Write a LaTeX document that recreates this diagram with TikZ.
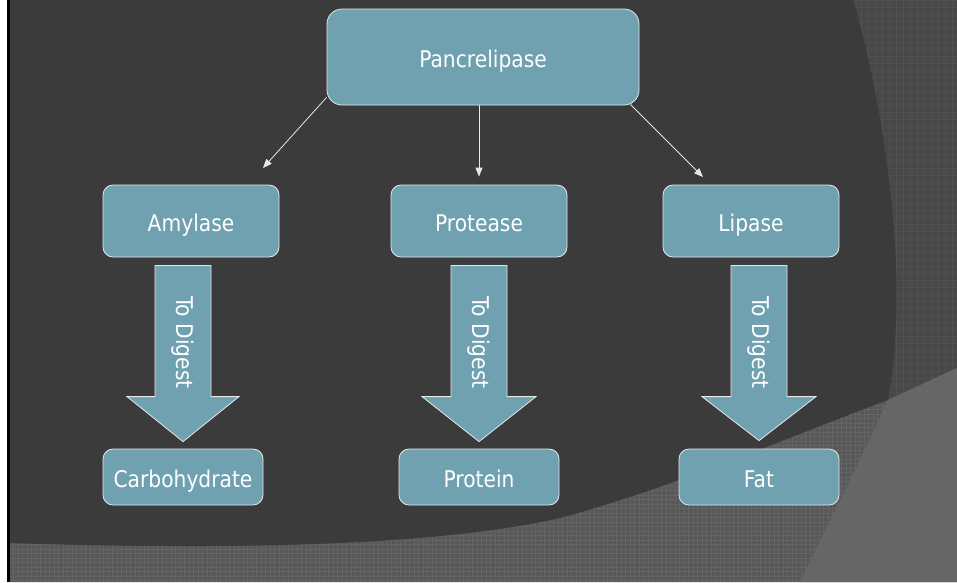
\documentclass[tikz,border=0pt]{standalone}
\usepackage{fontspec}
\setmainfont{DejaVu Sans}[FakeStretch=0.88]
\usetikzlibrary{arrows.meta,calc,positioning}

\definecolor{slatebg}{HTML}{3B3B3B}
\definecolor{sideband}{HTML}{484848}
\definecolor{sidegrid}{HTML}{505050}
\definecolor{lowband}{HTML}{585858}
\definecolor{lowgrid}{HTML}{646464}
\definecolor{cornerband}{HTML}{666666}
\definecolor{boxteal}{HTML}{6FA1B0}
\definecolor{boxedge}{HTML}{E8E8E8}

\tikzset{
  enzyme/.style={draw=boxedge, line width=0.8pt, fill=boxteal, rounded corners=10pt,
    text=white, inner sep=0pt, text height=22pt, text depth=2pt,
    font=\fontsize{23}{27}\selectfont},
  toplevel/.style={enzyme, minimum width=312pt, minimum height=96pt, rounded corners=15pt},
  midlevel/.style={enzyme, minimum width=176pt, minimum height=72pt},
  lowlevel/.style={enzyme, minimum width=160pt, minimum height=56pt},
  conn/.style={draw=boxedge, line width=0.8pt, -{Triangle[length=9pt,width=7pt]}},
  digest/.style={draw=boxedge, line width=0.8pt, fill=boxteal},
  digestlabel/.style={rotate=-90, text=white, inner sep=0pt, font=\fontsize{23}{27}\selectfont}
}

\begin{document}
\begin{tikzpicture}[x=1pt,y=-1pt]
\useasboundingbox (0,0) rectangle (957,582);
%%Background
\fill[white] (0,0) rectangle (7,582);
\fill[black] (7,0) rectangle (10,582);
\fill[sideband] (10,0) rectangle (957,582);
\draw[sidegrid, line width=0.4pt, step=7pt] (10,0) grid (957,582);
\fill[lowband] (10,543) .. controls (300,552) and (460,540) .. (560,518)
  .. controls (680,485) and (780,440) .. (888,400) -- (957,368) -- (957,582) -- (10,582) -- cycle;
\begin{scope}
\clip (10,543) .. controls (300,552) and (460,540) .. (560,518)
  .. controls (680,485) and (780,440) .. (888,400) -- (957,368) -- (957,582) -- (10,582) -- cycle;
\draw[lowgrid, line width=0.4pt, step=4.5pt] (10,360) grid (957,582);
\end{scope}
\fill[cornerband] (888,400) -- (957,368) -- (957,582) -- (800,582)
  .. controls (840,500) and (870,440) .. (888,400) -- cycle;
\fill[slatebg] (10,0) -- (853,0) .. controls (880,90) and (912,270) .. (888,400)
  .. controls (780,440) and (680,485) .. (560,518)
  .. controls (460,540) and (300,552) .. (10,543) -- cycle;

%%Enzymes
\node[toplevel] (pan) at (483,57) {Pancrelipase};
\node[midlevel] (amy) at (191,221) {Amylase};
\node[midlevel] (prot) at (479,221) {Protease};
\node[midlevel] (lip) at (751,221) {Lipase};
%%Nutrients
\node[lowlevel] (carb) at (183,477) {Carbohydrate};
\node[lowlevel] (protein) at (479,477) {Protein};
\node[lowlevel] (fat) at (759,477) {Fat};

%%Connectors
\coordinate (amytip) at (263,168);
\coordinate (liptip) at (703,177);
\draw[conn] ($(pan.south west)+(0,-8)$) -- (amytip);
\draw[conn] (prot.north |- pan.south) -- ($(prot.north)+(0,-8)$);
\draw[conn] ($(pan.south east)+(-9,-1)$) -- (liptip);

%%Digest arrows
\coordinate (topA) at ($(carb.north |- amy.south)+(0,8)$);
\coordinate (topB) at ($(protein.north |- prot.south)+(0,8)$);
\coordinate (topC) at ($(fat.north |- lip.south)+(0,8)$);
\draw[digest] ($(topA)+(-28,0)$) -- ($(topA)+(28,0)$) -- ($(carb.north)+(28,-52)$)
  -- ($(carb.north)+(56,-52)$) -- ($(carb.north)+(0,-7)$) -- ($(carb.north)+(-56,-52)$)
  -- ($(carb.north)+(-28,-52)$) -- cycle;
\draw[digest] ($(topB)+(-28,0)$) -- ($(topB)+(28,0)$) -- ($(protein.north)+(28,-52)$)
  -- ($(protein.north)+(57,-52)$) -- ($(protein.north)+(0,-7)$) -- ($(protein.north)+(-57,-52)$)
  -- ($(protein.north)+(-28,-52)$) -- cycle;
\draw[digest] ($(topC)+(-28,0)$) -- ($(topC)+(28,0)$) -- ($(fat.north)+(28,-52)$)
  -- ($(fat.north)+(57,-52)$) -- ($(fat.north)+(0,-8)$) -- ($(fat.north)+(-57,-52)$)
  -- ($(fat.north)+(-28,-52)$) -- cycle;

%%Label
\node[digestlabel] (digA) at ($(topA)+(0,77)$) {To Digest};
\node[digestlabel] (digB) at ($(topB)+(0,77)$) {To Digest};
\node[digestlabel] (digC) at ($(topC)+(0,77)$) {To Digest};

\end{tikzpicture}
\end{document}
